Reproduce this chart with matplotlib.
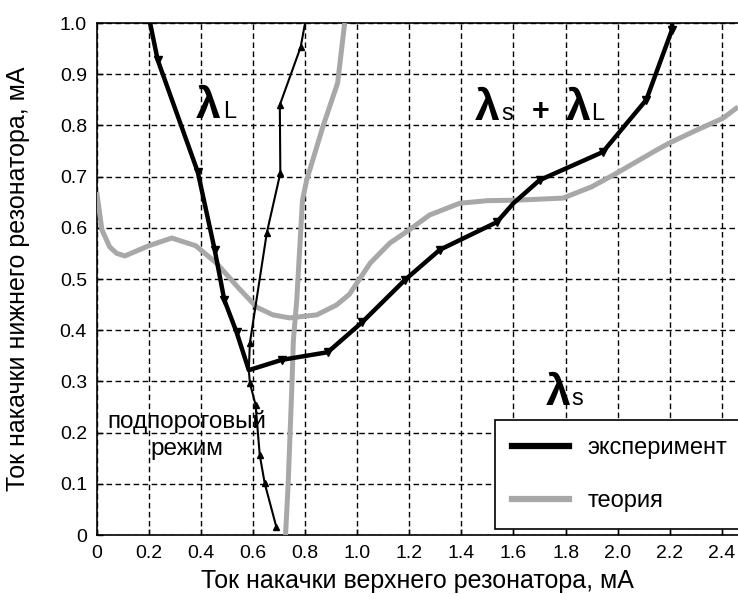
import matplotlib
matplotlib.use("Agg")
import matplotlib.pyplot as plt
from matplotlib.lines import Line2D

plt.rcParams['font.family'] = ['Liberation Sans', 'DejaVu Sans']

# experiment, thick branch (left part then right part)
exp_x = [0.205, 0.234, 0.388, 0.453, 0.49, 0.537, 0.584, 0.71, 0.887, 1.02,
         1.183, 1.317, 1.536, 1.60, 1.70, 1.943, 2.11, 2.208, 2.21]
exp_y = [1.0, 0.928, 0.709, 0.557, 0.459, 0.396, 0.322, 0.342, 0.357, 0.416,
         0.498, 0.557, 0.611, 0.648, 0.693, 0.748, 0.85, 0.986, 1.0]
exp_marks = [1, 2, 3, 4, 5, 7, 8, 9, 10, 11, 12, 14, 15, 16, 17]

# experiment, thin branch
thin_x = [0.69, 0.645, 0.626, 0.61, 0.588, 0.584, 0.588, 0.653, 0.705, 0.703, 0.783, 0.80]
thin_y = [0.015, 0.101, 0.156, 0.254, 0.297, 0.322, 0.375, 0.59, 0.707, 0.84, 0.953, 1.0]
thin_marks = [0, 1, 2, 3, 4, 6, 7, 8, 9, 10]

# theory curves
th1_x = [0, 0.02, 0.05, 0.077, 0.108, 0.2, 0.288, 0.38, 0.46, 0.54, 0.614,
         0.676, 0.741, 0.845, 0.92, 0.97, 1.05, 1.125, 1.2, 1.278, 1.394, 1.5,
         1.613, 1.79, 1.9, 1.997, 2.15, 2.2, 2.3, 2.404, 2.462]
th1_y = [0.67, 0.596, 0.5625, 0.55, 0.545, 0.565, 0.58, 0.565, 0.531, 0.485,
         0.445, 0.43, 0.424, 0.43, 0.449, 0.47, 0.531, 0.57, 0.596, 0.625, 0.648,
         0.653, 0.654, 0.658, 0.68, 0.707, 0.752, 0.766, 0.79, 0.814, 0.836]
th2_x = [0.725, 0.735, 0.75, 0.755, 0.768, 0.79, 0.806, 0.868, 0.925, 0.952]
th2_y = [0, 0.1, 0.3, 0.38, 0.459, 0.654, 0.693, 0.797, 0.883, 1.0]

xticks = [0, 0.2, 0.4, 0.6, 0.8, 1.0, 1.2, 1.4, 1.6, 1.8, 2.0, 2.2, 2.4]
xticklabels = ["0", "0.2", "0.4", "0.6", "0.8", "1.0", "1.2", "1.4", "1.6",
               "1.8", "2.0", "2.2", "2.4"]
yticks = [0, 0.1, 0.2, 0.3, 0.4, 0.5, 0.6, 0.7, 0.8, 0.9, 1.0]
yticklabels = ["0", "0.1", "0.2", "0.3", "0.4", "0.5", "0.6", "0.7", "0.8",
               "0.9", "1.0"]

gray = "#a8a8a8"

fig = plt.figure(figsize=(7.38, 5.94), dpi=100)
ax = fig.add_axes([96.7/738, 59/594, 1 - 96.7/738, 512/594])

ax.plot(th1_x, th1_y, color=gray, lw=3.6, solid_capstyle='butt', zorder=3)
ax.plot(th2_x, th2_y, color=gray, lw=3.6, solid_capstyle='butt', zorder=3)
ax.plot(thin_x, thin_y, color='black', lw=1.5, marker='^', ms=5,
        markevery=thin_marks, zorder=4)
ax.plot(exp_x, exp_y, color='black', lw=3.2, marker='v', ms=6,
        markevery=exp_marks, zorder=5)

ax.set_xlim(0, 2.462)
ax.set_ylim(0, 1.0)
ax.set_xticks(xticks)
ax.set_xticklabels(xticklabels)
ax.set_yticks(yticks)
ax.set_yticklabels(yticklabels)
ax.tick_params(direction='in', length=4, width=1, labelsize=14, colors='black')
ax.tick_params(axis='x', pad=7)
ax.tick_params(axis='y', pad=7)
ax.spines['right'].set_visible(False)
for s in ['left', 'top', 'bottom']:
    ax.spines[s].set_linewidth(1.2)
ax.grid(True, color='black', lw=1.0, linestyle=(0, (4, 2.5)), zorder=1)
ax.set_axisbelow(True)

ax.set_xlabel("Ток накачки верхнего резонатора, мА", fontsize=18, labelpad=5)
ax.set_ylabel("Ток накачки нижнего резонатора, мА", fontsize=18)
ax.yaxis.set_label_coords((30 - 96.7) / 641, 0.5)

# region labels
big = 32
small = 17
ax.text(0.38, 0.814, "λ", fontsize=big, fontweight='bold', va='baseline', ha='left')
ax.text(0.486, 0.814, "L", fontsize=small, va='baseline', ha='left')
ax.text(1.45, 0.81, "λ", fontsize=big, fontweight='bold', va='baseline', ha='left')
ax.text(1.552, 0.81, "s", fontsize=small, va='baseline', ha='left')
ax.text(1.705, 0.81, "+", fontsize=22, fontweight='bold', va='baseline', ha='center')
ax.text(1.80, 0.81, "λ", fontsize=big, fontweight='bold', va='baseline', ha='left')
ax.text(1.897, 0.81, "L", fontsize=small, va='baseline', ha='left')
ax.text(1.725, 0.254, "λ", fontsize=big, fontweight='bold', va='baseline', ha='left')
ax.text(1.822, 0.254, "s", fontsize=small, va='baseline', ha='left')
ax.text(0.345, 0.195, "подпороговый\nрежим", fontsize=17.5, ha='center', va='center',
        linespacing=1.3)

handles = [Line2D([], [], color='black', lw=4.5),
           Line2D([], [], color=gray, lw=4.5)]
leg = ax.legend(handles, ["эксперимент", "теория"], loc='lower left',
                bbox_to_anchor=(0.621, 0.0117, 0.45, 0.211), mode='expand',
                borderaxespad=0, fontsize=17, handlelength=2.4,
                handletextpad=0.8, labelspacing=1.32, borderpad=0.72,
                fancybox=False, framealpha=1, edgecolor='black')
leg.get_frame().set_linewidth(1.2)
leg.set_zorder(10)

fig.savefig("out.png", dpi=100)
